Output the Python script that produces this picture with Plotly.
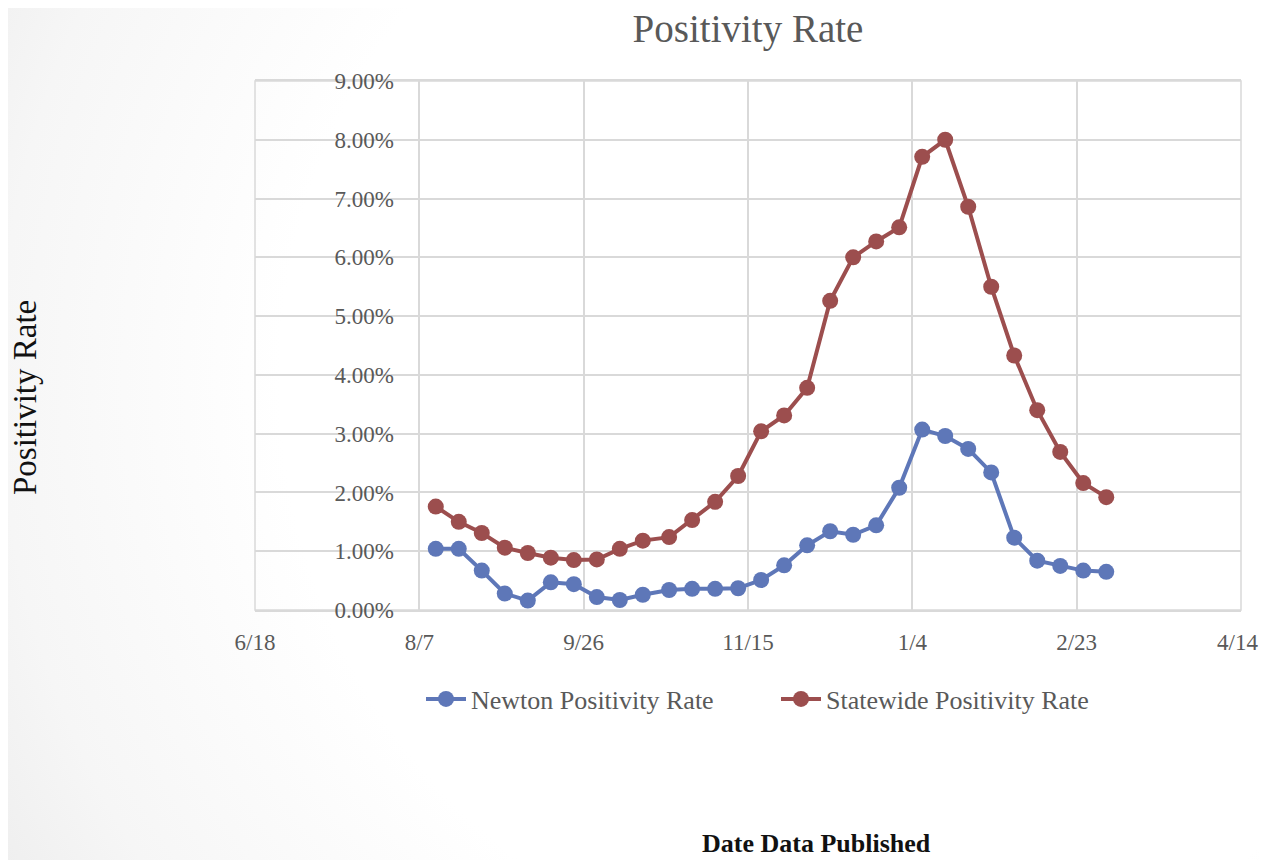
import base64
import plotly.graph_objects as go

# ---------------- data ----------------
dates = ["2020-08-12", "2020-08-19", "2020-08-26", "2020-09-02", "2020-09-09",
         "2020-09-16", "2020-09-23", "2020-09-30", "2020-10-07", "2020-10-14",
         "2020-10-22", "2020-10-29", "2020-11-05", "2020-11-12", "2020-11-19",
         "2020-11-26", "2020-12-03", "2020-12-10", "2020-12-17", "2020-12-24",
         "2020-12-31", "2021-01-07", "2021-01-14", "2021-01-21", "2021-01-28",
         "2021-02-04", "2021-02-11", "2021-02-18", "2021-02-25", "2021-03-04"]

newton_pct = [1.04, 1.04, 0.67, 0.28, 0.16, 0.47, 0.44, 0.22, 0.17, 0.26,
              0.34, 0.36, 0.36, 0.37, 0.51, 0.76, 1.10, 1.34, 1.28, 1.44,
              2.08, 3.07, 2.96, 2.74, 2.34, 1.23, 0.84, 0.75, 0.67, 0.65]

statewide_pct = [1.76, 1.50, 1.31, 1.06, 0.97, 0.89, 0.85, 0.86, 1.04, 1.18,
                 1.24, 1.53, 1.84, 2.28, 3.04, 3.31, 3.78, 5.26, 6.00, 6.27,
                 6.51, 7.71, 8.00, 6.86, 5.50, 4.33, 3.40, 2.69, 2.16, 1.92]

x_tick_dates = ["2020-06-18", "2020-08-07", "2020-09-26", "2020-11-15",
                "2021-01-04", "2021-02-23", "2021-04-14"]
x_tick_labels = ["6/18", "8/7", "9/26", "11/15", "1/4", "2/23", "4/14"]

y_tick_vals = [0, 0.01, 0.02, 0.03, 0.04, 0.05, 0.06, 0.07, 0.08, 0.09]

series_names = ["Newton Positivity Rate", "Statewide Positivity Rate"]
series_colors = ["#5E77B8", "#9C4E4E"]

# ---------------- figure ----------------
OFF = 8                      # body margin of the html page
W, H = 1267 - 2 * OFF, 868 - 2 * OFF      # fits the window exactly
PL, PR, PT, PB = 255, 1241, 81, 610       # plot area in screen pixels
L, T = PL - OFF, PT - OFF
R, B = (OFF + W) - PR, (OFF + H) - PB
pw, ph = W - L - R, H - T - B


def px_x(x):   # screen x -> paper fraction
    return (x - PL) / pw


def px_y(y):   # screen y -> paper fraction
    return (PB - y) / ph


FONT = "Liberation Serif"
GRAY = "#595959"
GRID = "#D9D9D9"

# the last tick label sits at the page edge: it is drawn as an annotation at its
# tick date, nudged a few pixels left, so it stays fully on the page
shown_x_labels = x_tick_labels[:-1] + [""]

fig = go.Figure()
for name, vals, col in zip(series_names, [newton_pct, statewide_pct], series_colors):
    fig.add_trace(go.Scatter(
        x=dates, y=[v / 100 for v in vals], name=name, mode="lines+markers",
        line=dict(color=col, width=4),
        marker=dict(color=col, size=16),
    ))

# soft slide vignette as background image
svg = """<svg xmlns='http://www.w3.org/2000/svg' width='1267' height='868' viewBox='0 0 1267 868' preserveAspectRatio='none'>
<defs><radialGradient id='g' gradientUnits='userSpaceOnUse' cx='880' cy='380' r='1000'>
<stop offset='0' stop-color='#ffffff'/><stop offset='0.6' stop-color='#ffffff'/>
<stop offset='0.88' stop-color='#f6f6f6'/><stop offset='1' stop-color='#efefef'/></radialGradient></defs>
<rect width='1267' height='868' fill='url(#g)'/></svg>"""
src = "data:image/svg+xml;base64," + base64.b64encode(svg.encode()).decode()

fig.update_layout(
    width=W, height=H, autosize=False,
    margin=dict(l=L, r=R, t=T, b=B, pad=0, autoexpand=False),
    paper_bgcolor="white", plot_bgcolor="white",
    font=dict(family=FONT, color=GRAY),
    title=dict(text="Positivity Rate", x=0.5, xref="paper", xanchor="center",
               y=1 - (28 - OFF) / H, yref="container", yanchor="middle",
               font=dict(family=FONT, size=39, color=GRAY)),
    showlegend=True,
    legend=dict(orientation="h", x=px_x(421), xanchor="left", y=px_y(699),
                yanchor="middle", font=dict(family=FONT, size=26, color=GRAY),
                bgcolor="rgba(0,0,0,0)", itemwidth=40, tracegroupgap=0,
                entrywidth=300, entrywidthmode="pixels"),
    images=[dict(source=src, xref="paper", yref="paper", x=px_x(0), y=px_y(0),
                 sizex=1267 / pw, sizey=868 / ph, sizing="stretch", layer="below",
                 xanchor="left", yanchor="top")],
)

fig.update_xaxes(
    type="date", range=[x_tick_dates[0], x_tick_dates[-1]],
    tickmode="array", tickvals=x_tick_dates, ticktext=shown_x_labels,
    showgrid=True, gridcolor=GRID, gridwidth=1.5,
    showline=True, linecolor=GRID, linewidth=1.5, mirror=True,
    ticks="outside", ticklen=11, tickcolor="rgba(0,0,0,0)",
    automargin=False,
    tickfont=dict(family=FONT, size=23, color=GRAY), zeroline=False,
)
fig.update_yaxes(
    range=[0, 0.09], tickmode="array", tickvals=y_tick_vals, tickformat=".2%",
    showgrid=True, gridcolor=GRID, gridwidth=1.5, zeroline=False,
    showline=False, anchor="free", position=px_x(394), automargin=False,
    ticks="", tickfont=dict(family=FONT, size=23, color=GRAY),
)

# last x tick label
fig.add_annotation(text=x_tick_labels[-1], xref="x", yref="paper",
                   x=x_tick_dates[-1], y=px_y(642), xshift=-4,
                   showarrow=False, xanchor="center", yanchor="middle",
                   font=dict(family=FONT, size=23, color=GRAY))

# border of plot area
fig.add_shape(type="rect", xref="paper", yref="paper", x0=0, x1=1, y0=0, y1=1,
              line=dict(color=GRID, width=1.5), layer="below")

# axis titles
fig.add_annotation(text="Positivity Rate", xref="paper", yref="paper",
                   x=px_x(25), y=px_y(398), textangle=-90,
                   showarrow=False, xanchor="center", yanchor="middle",
                   font=dict(family=FONT, size=33, color="#111111"))
fig.add_annotation(text="<b>Date Data Published</b>", xref="paper", yref="paper",
                   x=px_x(816), y=px_y(843),
                   showarrow=False, xanchor="center", yanchor="middle",
                   font=dict(family=FONT, size=26, color="#111111"))

fig.write_html("out.html")
